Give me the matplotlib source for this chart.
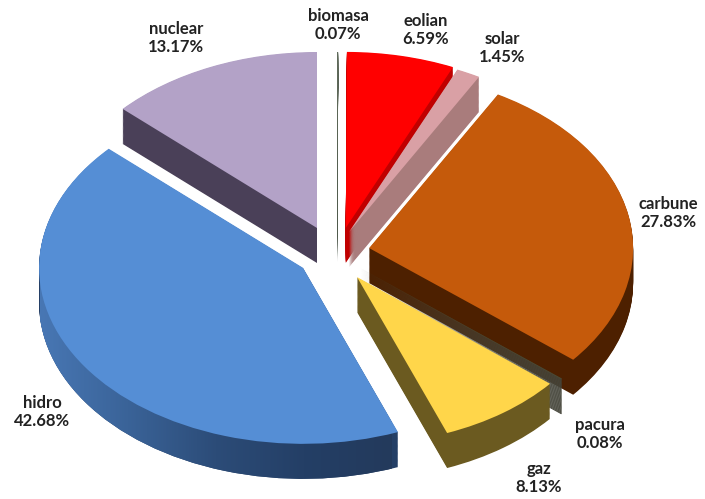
import numpy as np
from matplotlib import pyplot as plt
from matplotlib.colors import LinearSegmentedColormap
from matplotlib.path import Path

sources = ['biomasa', 'eolian', 'solar', 'carbune', 'pacura', 'gaz', 'hidro', 'nuclear']
shares = [0.07, 6.59, 1.45, 27.83, 0.08, 8.13, 42.68, 13.17]

# slice styling, same order as sources
explode = [0.14, 0.14, 0.11, 0.12, 0.13, 0.11, 0.16, 0.18]
top_colors = ['#5f6a5a', '#ff0000', '#d9a0a5', '#c55a0b', '#4a4a35', '#ffd64a', '#558ed5', '#b3a2c7']
wall_colors = ['#4f5a4c', '#c00000', '#a97c7c', '#4d2000', '#45453a', '#6b5a20', '#243f66', '#4a4058']
stacking = [2, 3, 4, 5, 6, 7, 8, 1]
label_xy = [(338, 25), (426, 30), (502, 48), (668, 213), (600, 434), (539, 478), (42, 412), (176, 38)]

W, H = 705, 499
CX, CY = 338, 252
RX, RY = 264, 176
DEPTH = 35 / RY

# slices placed by hand: tip in pixels and radius
nudged = {'biomasa': (337, 228, 1.0), 'solar': (349, 232, 1.01), 'pacura': (360, 268, 0.99),
          'gaz': (357, 277, 0.95), 'nuclear': (317, 228, 1.0)}

fig = plt.figure(figsize=(W / 100, H / 100), dpi=100)
ax = fig.add_axes([0, 0, 1, 1])


def draw_pie(y_offset, colors, z):
    wedges, _ = ax.pie(shares, explode=explode, colors=colors, startangle=90,
                       counterclock=False, center=(0, y_offset), radius=1,
                       wedgeprops={'linewidth': 0})
    for name, w, s in zip(sources, wedges, stacking):
        w.set_zorder(s + z)
        if name in nudged:
            px, py, r = nudged[name]
            w.set_center(((px - CX) / RX, (CY - py) / RY + y_offset))
            w.set_radius(r)
    return wedges


# side walls are the same pie stacked downwards
hidro_paths = []
for d in np.arange(DEPTH, 0, -0.005):
    wedges = draw_pie(-d, wall_colors, 0)
    hidro_paths.append(wedges[sources.index('hidro')].get_path())
draw_pie(0, top_colors, 0.5)

# shaded wall under the big slice, lighter towards the left
shade = LinearSegmentedColormap.from_list('hidro_wall', ['#4877b4', '#3a6398', '#2c4c78', '#243f66', '#233a5c'])
x0, x1 = (40 - CX) / RX, (392 - CX) / RX
im = ax.imshow(np.linspace(0, 1, 256).reshape(1, -1), cmap=shade, aspect='auto',
               extent=(x0, x1, -1.6, 0.5), zorder=stacking[sources.index('hidro')] + 0.2)
im.set_clip_path(Path.make_compound_path(*hidro_paths), transform=ax.transData)

ax.set_aspect('auto')
ax.set_xlim(-CX / RX, (W - CX) / RX)
ax.set_ylim((CY - H) / RY, CY / RY)
ax.axis('off')

for name, share, (px, py) in zip(sources, shares, label_xy):
    ax.text((px - CX) / RX, (CY - py) / RY, f'{name}\n{share:.2f}%', ha='center', va='center',
            family='Lato', fontweight='bold', fontsize=12, color='#222222',
            linespacing=1.1, zorder=20)

fig.savefig('out.png', dpi=100)
